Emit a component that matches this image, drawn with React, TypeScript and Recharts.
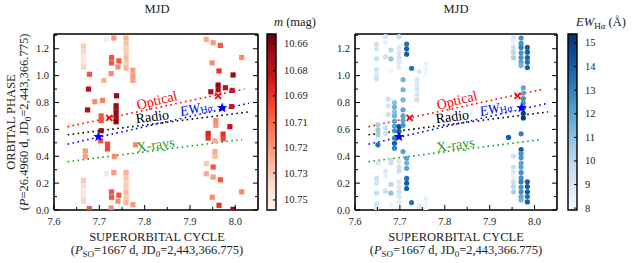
import React from "react";
import { ComposedChart, Scatter, XAxis, YAxis, ReferenceLine, ReferenceArea } from "recharts";

// superorbital cycle -> MJD conversion (P_SO = 1667 d, JD0 = 2,443,366.775)
const P_SO = 1667;
const MJD0 = 43366.275;

const X_DOMAIN = [7.6, 8.05];
const Y_DOMAIN = [0, 1.31];
const X_TICKS = [7.6, 7.7, 7.8, 7.9, 8.0];
const X_MINOR = [7.65, 7.75, 7.85, 7.95];
const Y_TICKS = [0, 0.2, 0.4, 0.6, 0.8, 1.0, 1.2];
const Y_MINOR = [0.1, 0.3, 0.5, 0.7, 0.9, 1.1, 1.3];
const MJD_TICKS = [56100, 56300, 56500, 56700];
const MJD_MINOR = [56050, 56150, 56200, 56250, 56350, 56400, 56450, 56550, 56600, 56650, 56750];

// [cycle, orbital phase, optical magnitude]
const OPTICAL_OBS: [number, number, number][] = [
  [7.665, 0.22, 10.735], [7.665, 0.18, 10.74], [7.665, 0.14, 10.745], [7.665, 0.1, 10.745], [7.665, 0.065, 10.738],
  [7.669, 0.44, 10.72], [7.669, 0.4, 10.722],
  [7.678, 0.01, 10.7], [7.676, 0.9, 10.675], [7.674, 0.745, 10.672],
  [7.69, 0.806, 10.715], [7.707, 0.816, 10.712], [7.71, 0.965, 10.727],
  [7.715, 0.27, 10.747], [7.732, 0.28, 10.72],
  [7.759, 0.28, 10.727], [7.759, 0.24, 10.732], [7.759, 0.2, 10.736], [7.759, 0.17, 10.735],
  [7.759, 0.13, 10.73], [7.759, 0.09, 10.735], [7.759, 0.055, 10.73],
  [7.774, 0.04, 10.72], [7.774, 0.999, 10.72], [7.774, 0.965, 10.722],
  [7.727, 0.135, 10.7], [7.727, 0.095, 10.7], [7.743, 0.11, 10.7], [7.741, 0.065, 10.715], [7.726, 0.015, 10.715],
  [7.738, 0.85, 10.665],
  [7.737, 0.776, 10.665], [7.737, 0.746, 10.67], [7.737, 0.716, 10.665], [7.737, 0.684, 10.67], [7.737, 0.657, 10.663],
  [7.704, 0.7, 10.7], [7.704, 0.666, 10.7], [7.704, 0.59, 10.665], [7.703, 0.515, 10.7],
  [7.718, 0.49, 10.695], [7.718, 0.455, 10.695], [7.733, 0.4, 10.715], [7.78, 0.485, 10.715],
  [7.936, 0.27, 10.725], [7.936, 0.345, 10.735], [7.951, 0.245, 10.72], [7.951, 0.32, 10.7],
  [7.967, 0.225, 10.7], [8.014, 0.135, 10.715], [7.949, 0.095, 10.715], [7.964, 0.035, 10.69], [7.995, 0.005, 10.665],
  [7.962, 0.93, 10.665], [7.962, 0.895, 10.67], [7.946, 0.88, 10.67], [7.978, 0.91, 10.675], [7.993, 0.89, 10.68],
  [7.992, 0.77, 10.68], [7.957, 0.666, 10.715], [7.957, 0.63, 10.72], [7.988, 0.62, 10.675],
  [7.94, 0.57, 10.685], [7.94, 0.535, 10.69], [7.973, 0.565, 10.69], [7.973, 0.53, 10.695],
  [7.955, 0.515, 10.725], [7.955, 0.435, 10.725], [7.955, 0.4, 10.73],
];

// [cycle, orbital phase, EW(H-alpha) in Angstrom]
const HALPHA_OBS: [number, number, number][] = [
  [7.648, 0.235, 9.5], [7.648, 0.2, 9.3], [7.648, 0.125, 9.5], [7.648, 0.045, 9.3], [7.648, 0.013, 9.0], [7.648, 0.978, 9.5],
  [7.651, 0.35, 9.0], [7.651, 0.634, 10.5], [7.651, 0.597, 10.8], [7.651, 0.56, 10.5], [7.651, 0.485, 13.5],
  [7.668, 0.29, 9.0], [7.668, 0.25, 8.5], [7.668, 0.14, 9.5], [7.668, 0.61, 9.5], [7.668, 0.57, 9.5],
  [7.674, 0.826, 9.5], [7.674, 0.776, 9.2], [7.674, 0.71, 9.5],
  [7.68, 0.37, 9.5], [7.68, 0.35, 9.5], [7.68, 0.19, 10], [7.68, 0.125, 11], [7.68, 0.037, 8.3],
  [7.688, 0.8, 11], [7.688, 0.765, 11.5], [7.688, 0.73, 11], [7.688, 0.7, 11.5], [7.688, 0.66, 12],
  [7.688, 0.625, 12], [7.688, 0.59, 12.5], [7.688, 0.535, 13], [7.688, 0.497, 14], [7.688, 0.46, 13],
  [7.698, 0.36, 9], [7.698, 0.32, 9.5], [7.698, 0.29, 9.5], [7.698, 0.21, 9], [7.698, 0.17, 9],
  [7.698, 0.135, 9.3], [7.698, 0.1, 9], [7.698, 0.06, 8.7], [7.698, 0.62, 14.5], [7.698, 0.585, 14], [7.698, 0.547, 13],
  [7.707, 0.97, 11.5], [7.707, 0.895, 11.5], [7.707, 0.82, 11.5], [7.707, 0.746, 12], [7.707, 0.7, 12],
  [7.707, 0.666, 12], [7.707, 0.63, 12.5], [7.707, 0.435, 12],
  [7.715, 0.385, 12], [7.715, 0.35, 11.5], [7.715, 0.31, 12], [7.715, 0.235, 13.5], [7.715, 0.2, 14], [7.715, 0.16, 14],
  [7.726, 0.055, 13.5], [7.743, 0.03, 9],
  [7.738, 0.97, 9], [7.738, 0.935, 9], [7.738, 0.9, 9.3], [7.738, 0.86, 9], [7.738, 0.82, 9.5],
  [7.758, 0.09, 8.5], [7.758, 0.05, 8.3], [7.758, 0.01, 8.2],
  [7.942, 0.54, 14],
  [7.953, 0.4, 9.5], [7.953, 0.32, 9.5], [7.953, 0.285, 9], [7.953, 0.25, 8.5], [7.953, 0.21, 9.5],
  [7.953, 0.175, 10], [7.953, 0.135, 10.5],
  [7.97, 0.45, 14], [7.97, 0.42, 12.5], [7.97, 0.39, 12.5], [7.97, 0.35, 12], [7.97, 0.32, 12], [7.97, 0.28, 12.5],
  [7.97, 0.24, 12.5], [7.97, 0.21, 13], [7.97, 0.17, 12.5], [7.97, 0.135, 12.5], [7.97, 0.1, 12], [7.97, 0.075, 11.5],
  [7.97, 0.567, 13],
  [7.975, 0.91, 12], [7.975, 0.87, 12], [7.975, 0.83, 12.5], [7.975, 0.795, 12.5], [7.975, 0.76, 13],
  [7.975, 0.72, 15], [7.975, 0.685, 15],
  [7.984, 0.21, 14], [7.984, 0.175, 14], [7.984, 0.135, 14], [7.984, 0.1, 13.5], [7.984, 0.06, 14],
];

// phase-vs-cycle trend lines: [cycle start, phase start, cycle end, phase end]
const TRENDS = [
  { name: "Optical", seg: [7.63, 0.62, 8.02, 0.9], color: "#ff0000" },
  { name: "Radio", seg: [7.63, 0.56, 8.03, 0.73], color: "#000000" },
  { name: "EW", seg: [7.63, 0.49, 8.03, 0.795], color: "#0000ff" },
  { name: "X-rays", seg: [7.63, 0.36, 8.015, 0.525], color: "#1f9a1f" },
];
const TREND_LABELS = [
  { key: "Optical", x: 7.827, y: 0.815, color: "#ff0000", angle: -14 },
  { key: "Radio", x: 7.817, y: 0.694, color: "#000000", angle: -7 },
  { key: "EW", x: 7.913, y: 0.761, color: "#0000ff", angle: -13 },
  { key: "X-rays", x: 7.824, y: 0.485, color: "#1f9a1f", angle: -8 },
];
const CROSSES = [[7.722, 0.686], [7.962, 0.85]];
const STARS = [[7.698, 0.545], [7.971, 0.76]];

const REDS = ["#fff5f0", "#fee0d2", "#fcbba1", "#fc9272", "#fb6a4a", "#ef3b2c", "#cb181d", "#a50f15", "#67000d"];
const BLUES = ["#f7fbff", "#deebf7", "#c6dbef", "#9ecae1", "#6baed6", "#4292c6", "#2171b5", "#08519c", "#08306b"];
const M_DOMAIN = [10.6565, 10.7546];
const M_TICKS = [10.662, 10.677, 10.691, 10.706, 10.72, 10.734, 10.749];
const M_LABELS = ["10.66", "10.68", "10.69", "10.71", "10.72", "10.73", "10.75"];
const EW_DOMAIN = [7.92, 15.38];
const EW_TICKS = [8, 9, 10, 11, 12, 13, 14, 15];

const FONT = "Liberation Serif, Times New Roman, serif";
const tickText = { fontFamily: FONT, fontSize: 10.5, fill: "#222" };

const hex = (h: string) => [1, 3, 5].map((i) => parseInt(h.slice(i, i + 2), 16));
function ramp(stops: string[], t: number) {
  const u = Math.max(0, Math.min(1, t)) * (stops.length - 1);
  const i = Math.min(Math.floor(u), stops.length - 2);
  const f = u - i;
  const a = hex(stops[i]);
  const b = hex(stops[i + 1]);
  const c = a.map((v, k) => Math.round(v + (b[k] - v) * f));
  return `rgb(${c[0]},${c[1]},${c[2]})`;
}
const redFor = (m: number) => ramp(REDS, (M_DOMAIN[1] - m) / (M_DOMAIN[1] - M_DOMAIN[0]));
const blueFor = (ew: number) => ramp(BLUES, (ew - EW_DOMAIN[0]) / (EW_DOMAIN[1] - EW_DOMAIN[0]));

const toMjd = (c: number) => c * P_SO + MJD0;
const near = (list: number[], v: number) => list.some((t) => Math.abs(t - v) < 1e-6);

// each observation is plotted at phase and phase + 1
function wrap(obs: [number, number, number][]) {
  const out: { x: number; y: number; v: number }[] = [];
  obs.forEach(([c, p, v]) => {
    out.push({ x: c, y: p, v });
    if (p + 1 < Y_DOMAIN[1] - 0.004) out.push({ x: c, y: p + 1, v });
  });
  return out;
}

const bottomTick = (p: any) => {
  const v = p.payload.value;
  const major = near(X_TICKS, v);
  return (
    <g>
      <line x1={p.x} x2={p.x} y1={p.y} y2={p.y - (major ? 5 : 3)} stroke="#000" />
      {major && (
        <text x={p.x} y={p.y + 15} textAnchor="middle" style={tickText}>
          {v.toFixed(1)}
        </text>
      )}
    </g>
  );
};
const topTick = (p: any) => {
  const v = p.payload.value;
  const major = near(MJD_TICKS, v);
  return (
    <g>
      <line x1={p.x} x2={p.x} y1={p.y} y2={p.y + (major ? 5 : 3)} stroke="#000" />
      {major && (
        <text x={p.x} y={p.y - 5} textAnchor="middle" style={tickText}>
          {v}
        </text>
      )}
    </g>
  );
};
const leftTick = (p: any) => {
  const v = p.payload.value;
  const major = near(Y_TICKS, v);
  return (
    <g>
      <line x1={p.x} x2={p.x + (major ? 5 : 3)} y1={p.y} y2={p.y} stroke="#000" />
      {major && (
        <text x={p.x - 5} y={p.y + 3.5} textAnchor="end" style={tickText}>
          {v.toFixed(1)}
        </text>
      )}
    </g>
  );
};
const rightTick = (p: any) => {
  const major = near(Y_TICKS, p.payload.value);
  return <line x1={p.x} x2={p.x - (major ? 5 : 3)} y1={p.y} y2={p.y} stroke="#000" />;
};

const squareShape = (p: any) => (
  <rect x={p.cx - 2.6} y={p.cy - 2.6} width={5.2} height={5.2} fill={redFor(p.payload.v)} />
);
const circleShape = (p: any) => <circle cx={p.cx} cy={p.cy} r={2.6} fill={blueFor(p.payload.v)} />;
const crossShape = (p: any) => (
  <g stroke="#ff0000" strokeWidth={1.8}>
    <line x1={p.cx - 3} y1={p.cy - 3} x2={p.cx + 3} y2={p.cy + 3} />
    <line x1={p.cx - 3} y1={p.cy + 3} x2={p.cx + 3} y2={p.cy - 3} />
  </g>
);
const starShape = (p: any) => {
  const pts = Array.from({ length: 10 }, (_, i) => {
    const r = i % 2 === 0 ? 5.5 : 2.3;
    const a = -Math.PI / 2 + (i * Math.PI) / 5;
    return `${p.cx + r * Math.cos(a)},${p.cy + r * Math.sin(a)}`;
  }).join(" ");
  return <polygon points={pts} fill="#0000ff" />;
};
const labelShape = (p: any) => {
  const d = p.payload;
  const body =
    d.key === "EW" ? (
      <>
        <tspan fontStyle="italic">EW</tspan>
        <tspan fontSize={10} dy={3}>H</tspan>
        <tspan fontSize={10} fontStyle="italic">α</tspan>
      </>
    ) : (
      d.key
    );
  return (
    <text
      x={p.cx}
      y={p.cy}
      textAnchor="middle"
      dominantBaseline="central"
      style={{ fontFamily: FONT, fontSize: 14, fill: d.color }}
      transform={`rotate(${d.angle} ${p.cx} ${p.cy})`}
    >
      {body}
    </text>
  );
};

const axisLine = { stroke: "#000", strokeWidth: 1.6 };

function Panel({ left, width, marginLeft, marginRight, points, shape }: any) {
  return (
    <div style={{ position: "absolute", left, top: 0 }}>
      <ComposedChart
        width={width}
        height={263}
        margin={{ top: 33, right: marginRight - 1, bottom: 52, left: marginLeft - 1 }}
      >
        <XAxis
          xAxisId="c"
          type="number"
          dataKey="x"
          domain={X_DOMAIN}
          allowDataOverflow
          ticks={[...X_TICKS, ...X_MINOR]}
          interval={0}
          height={1}
          tickSize={0}
          tickMargin={0}
          axisLine={axisLine}
          tick={bottomTick}
        />
        <XAxis
          xAxisId="mjd"
          orientation="top"
          type="number"
          domain={[toMjd(X_DOMAIN[0]), toMjd(X_DOMAIN[1])]}
          allowDataOverflow
          ticks={[...MJD_TICKS, ...MJD_MINOR]}
          interval={0}
          height={1}
          tickSize={0}
          tickMargin={0}
          axisLine={axisLine}
          tick={topTick}
        />
        <YAxis
          yAxisId="p"
          type="number"
          dataKey="y"
          domain={Y_DOMAIN}
          allowDataOverflow
          ticks={[...Y_TICKS, ...Y_MINOR]}
          interval={0}
          width={1}
          tickSize={0}
          tickMargin={0}
          axisLine={axisLine}
          tick={leftTick}
        />
        <YAxis
          yAxisId="r"
          orientation="right"
          type="number"
          domain={Y_DOMAIN}
          allowDataOverflow
          ticks={[...Y_TICKS, ...Y_MINOR]}
          interval={0}
          width={1}
          tickSize={0}
          tickMargin={0}
          axisLine={axisLine}
          tick={rightTick}
        />
        <Scatter xAxisId="c" yAxisId="p" data={points} shape={shape} isAnimationActive={false} />
        {TRENDS.map((t) => (
          <ReferenceLine
            key={t.name}
            xAxisId="c"
            yAxisId="p"
            segment={[
              { x: t.seg[0], y: t.seg[1] },
              { x: t.seg[2], y: t.seg[3] },
            ]}
            stroke={t.color}
            strokeWidth={1.6}
            strokeDasharray="1.6 3.4"
          />
        ))}
        <Scatter
          xAxisId="c"
          yAxisId="p"
          data={CROSSES.map(([x, y]) => ({ x, y }))}
          shape={crossShape}
          isAnimationActive={false}
        />
        <Scatter
          xAxisId="c"
          yAxisId="p"
          data={STARS.map(([x, y]) => ({ x, y }))}
          shape={starShape}
          isAnimationActive={false}
        />
        <Scatter xAxisId="c" yAxisId="p" data={TREND_LABELS} shape={labelShape} isAnimationActive={false} />
      </ComposedChart>
    </div>
  );
}

function Colorbar({ left, id, stops, domain, reversed, ticks, labels }: any) {
  const cbTick = (p: any) => {
    const i = ticks.findIndex((t: number) => Math.abs(t - p.payload.value) < 1e-6);
    return (
      <g>
        <line x1={p.x} x2={p.x - 3} y1={p.y} y2={p.y} stroke="#000" />
        <text x={p.x + 8} y={p.y + 3.5} style={tickText}>
          {labels ? labels[i] : p.payload.value}
        </text>
      </g>
    );
  };
  return (
    <div style={{ position: "absolute", left, top: 0 }}>
      <ComposedChart width={70} height={263} margin={{ top: 34, right: 55, bottom: 53, left: 5 }}>
        <defs>
          <linearGradient id={id} x1="0" y1="0" x2="0" y2="1">
            {[...stops].reverse().map((c: string, i: number) => (
              <stop key={i} offset={`${(i / (stops.length - 1)) * 100}%`} stopColor={c} />
            ))}
          </linearGradient>
        </defs>
        <XAxis type="number" dataKey="x" domain={[0, 1]} allowDataOverflow hide />
        <YAxis
          orientation="right"
          type="number"
          dataKey="y"
          domain={domain}
          reversed={reversed}
          allowDataOverflow
          ticks={ticks}
          interval={0}
          width={1}
          tickSize={0}
          tickMargin={0}
          axisLine={false}
          tick={cbTick}
        />
        <ReferenceArea
          x1={0}
          x2={1}
          y1={domain[0]}
          y2={domain[1]}
          fill={`url(#${id})`}
          fillOpacity={1}
          stroke="#000"
          strokeWidth={1.4}
          ifOverflow="visible"
        />
      </ComposedChart>
    </div>
  );
}

function Titles() {
  const t = { fontFamily: FONT, fontSize: 12.5, fill: "#222" };
  const cycleLine2 = (
    <>
      (<tspan fontStyle="italic">P</tspan>
      <tspan fontSize={9} dy={2.5}>SO</tspan>
      <tspan dy={-2.5}>=1667 d, JD</tspan>
      <tspan fontSize={9} dy={2.5}>0</tspan>
      <tspan dy={-2.5}>=2,443,366.775)</tspan>
    </>
  );
  return (
    <svg width={634} height={263} style={{ position: "absolute", left: 0, top: 0, pointerEvents: "none" }}>
      <text x={157} y={13} textAnchor="middle" style={t}>MJD</text>
      <text x={456} y={13} textAnchor="middle" style={t}>MJD</text>
      <text x={295} y={26} textAnchor="middle" style={t}>
        <tspan fontStyle="italic">m</tspan> (mag)
      </text>
      <text x={601} y={26} textAnchor="middle" style={t}>
        <tspan fontStyle="italic">EW</tspan>
        <tspan fontSize={9} dy={3}>H</tspan>
        <tspan fontSize={9} fontStyle="italic">α</tspan>
        <tspan dy={-3}> (Å)</tspan>
      </text>
      <text x={157} y={241} textAnchor="middle" style={t}>SUPERORBITAL CYCLE</text>
      <text x={157} y={254} textAnchor="middle" style={t}>{cycleLine2}</text>
      <text x={456} y={241} textAnchor="middle" style={t}>SUPERORBITAL CYCLE</text>
      <text x={456} y={254} textAnchor="middle" style={t}>{cycleLine2}</text>
      <text transform="translate(15 122) rotate(-90)" textAnchor="middle" style={t}>ORBITAL PHASE</text>
      <text transform="translate(28 122) rotate(-90)" textAnchor="middle" style={t}>
        (<tspan fontStyle="italic">P</tspan>=26.4960 d, JD
        <tspan fontSize={9} dy={2.5}>0</tspan>
        <tspan dy={-2.5}>=2,443,366.775)</tspan>
      </text>
    </svg>
  );
}

export default function App() {
  return (
    <div style={{ position: "absolute", left: 0, top: 0, width: 634, height: 263, background: "#fff" }}>
      <Panel left={0} width={320} marginLeft={54} marginRight={62} points={wrap(OPTICAL_OBS)} shape={squareShape} />
      <Colorbar left={262} id="cbRed" stops={REDS} domain={M_DOMAIN} reversed ticks={M_TICKS} labels={M_LABELS} />
      <Panel left={300} width={260} marginLeft={55} marginRight={3} points={wrap(HALPHA_OBS)} shape={circleShape} />
      <Colorbar left={563} id="cbBlue" stops={BLUES} domain={EW_DOMAIN} reversed={false} ticks={EW_TICKS} />
      <Titles />
    </div>
  );
}
